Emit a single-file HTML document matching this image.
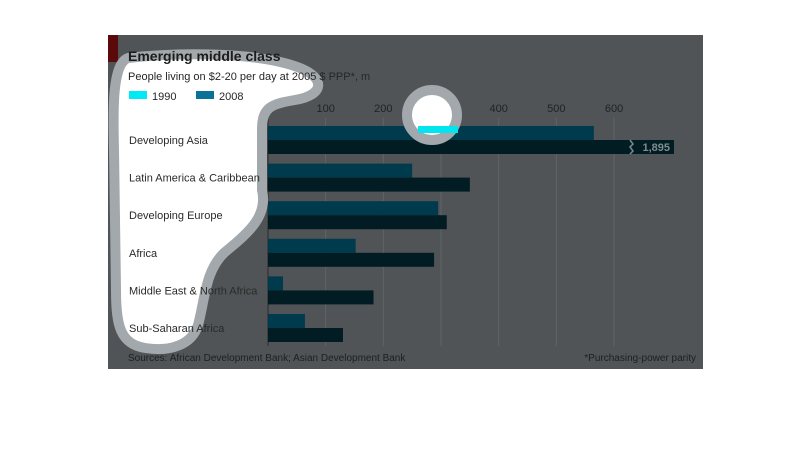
<!DOCTYPE html>
<html><head><meta charset="utf-8"><style>
body{margin:0;background:#fff;width:810px;height:464px;overflow:hidden;font-family:"Liberation Sans",sans-serif}
</style></head><body>
<svg width="810" height="464" style="position:absolute;left:0;top:0">
<rect x="108" y="35" width="595" height="334" fill="#505456"/>
<rect x="108" y="35" width="10" height="27" fill="#5a0a0a"/>
<g id="grid"></g>
<g id="bars"></g>
<path d="M128,58 C180,52 260,52 300,68 C325,78 325,95 295,100 C270,104 262,108 262,130 L262,190 C268,215 250,232 225,252 C205,270 205,300 198,325 C192,345 170,352 145,348 C120,344 116,325 116,290 L114,150 C113,110 112,64 128,58 Z" fill="#fff" stroke="#a2a8ab" stroke-width="10"/>
<circle cx="432" cy="115" r="25" fill="#fff" stroke="#a2a8ab" stroke-width="10"/>
<rect x="418" y="126" width="40" height="7" fill="#00e5f0"/>
<text x="128" y="61" font-size="14" font-weight="bold" fill="#1c1c1c">Emerging middle class</text>
<text x="128" y="80" font-size="11" fill="#262626">People living on $2-20 per day at 2005 $ PPP*, m</text>
<rect x="129" y="91" width="18" height="8" fill="#00eaf5"/>
<text x="152" y="100" font-size="11" fill="#262626">1990</text>
<rect x="196" y="91" width="18" height="8" fill="#0a7199"/>
<text x="219" y="100" font-size="11" fill="#262626">2008</text>
<g id="labels"></g>
<text x="128" y="361" font-size="10" fill="#1e1e1e">Sources: African Development Bank; Asian Development Bank</text>
<text x="696" y="361" font-size="10" fill="#1e1e1e" text-anchor="end">*Purchasing-power parity</text>
</svg>
<script>
const categories=["Developing Asia","Latin America & Caribbean","Developing Europe","Africa","Middle East & North Africa","Sub-Saharan Africa"];
const values1990=[565,250,295,152,26,64];
const values2008=[1895,350,310,288,183,130];
const ticks=[0,100,200,300,400,500,600];
const axisMax=700;
const NS="http://www.w3.org/2000/svg";
const x0=268,pxPer=0.5767,top0=126,step=37.6,bh=14,breakEnd=674;
const xs=v=>x0+v*pxPer;
function mk(t,a,p){const e=document.createElementNS(NS,t);for(const k in a)e.setAttribute(k,a[k]);p.appendChild(e);return e;}
const grid=document.getElementById('grid'),bars=document.getElementById('bars'),labels=document.getElementById('labels');
ticks.forEach(t=>{
 const l=mk('line',{x1:xs(t),x2:xs(t),y1:118,y2:346,stroke:t===0?'#2a2a2a':'#5f6466','stroke-width':t===0?1:1},grid);
 
 
 const tx=mk('text',{x:xs(t),y:112,'font-size':11,fill:'#222','text-anchor':'middle'},grid);
 tx.textContent=t;
 
 
});
categories.forEach((c,i)=>{
 const y=top0+i*step;
 const lb=mk('text',{x:129,y:y+18,'font-size':11,fill:'#2a2a2a'},labels);
 lb.textContent=c;
 
 
 const b1=mk('rect',{x:x0,y:y,width:xs(values1990[i])-x0,height:bh,fill:'#003a4d'},bars);
 
 
 const v=values2008[i];const broken=v>axisMax;
 const w=broken?breakEnd-x0:xs(v)-x0;
 const b2=mk('rect',{x:x0,y:y+bh,width:w,height:bh,fill:'#021c24'},bars);
 
 
 if(broken){
  const bx=630;
  const z=mk('path',{d:`M${bx},${y+bh} l3,4 l-3,3 l3,4 l-3,3`,stroke:'#7a8a90','stroke-width':1.5,fill:'none'},bars);
  
  
  const t=mk('text',{x:670,y:y+bh+11,'font-size':11,'font-weight':'bold',fill:'#7f8b8f','text-anchor':'end'},bars);
  t.textContent=v.toLocaleString('en-US');
  
  
 }
});
</script>
</body></html>
